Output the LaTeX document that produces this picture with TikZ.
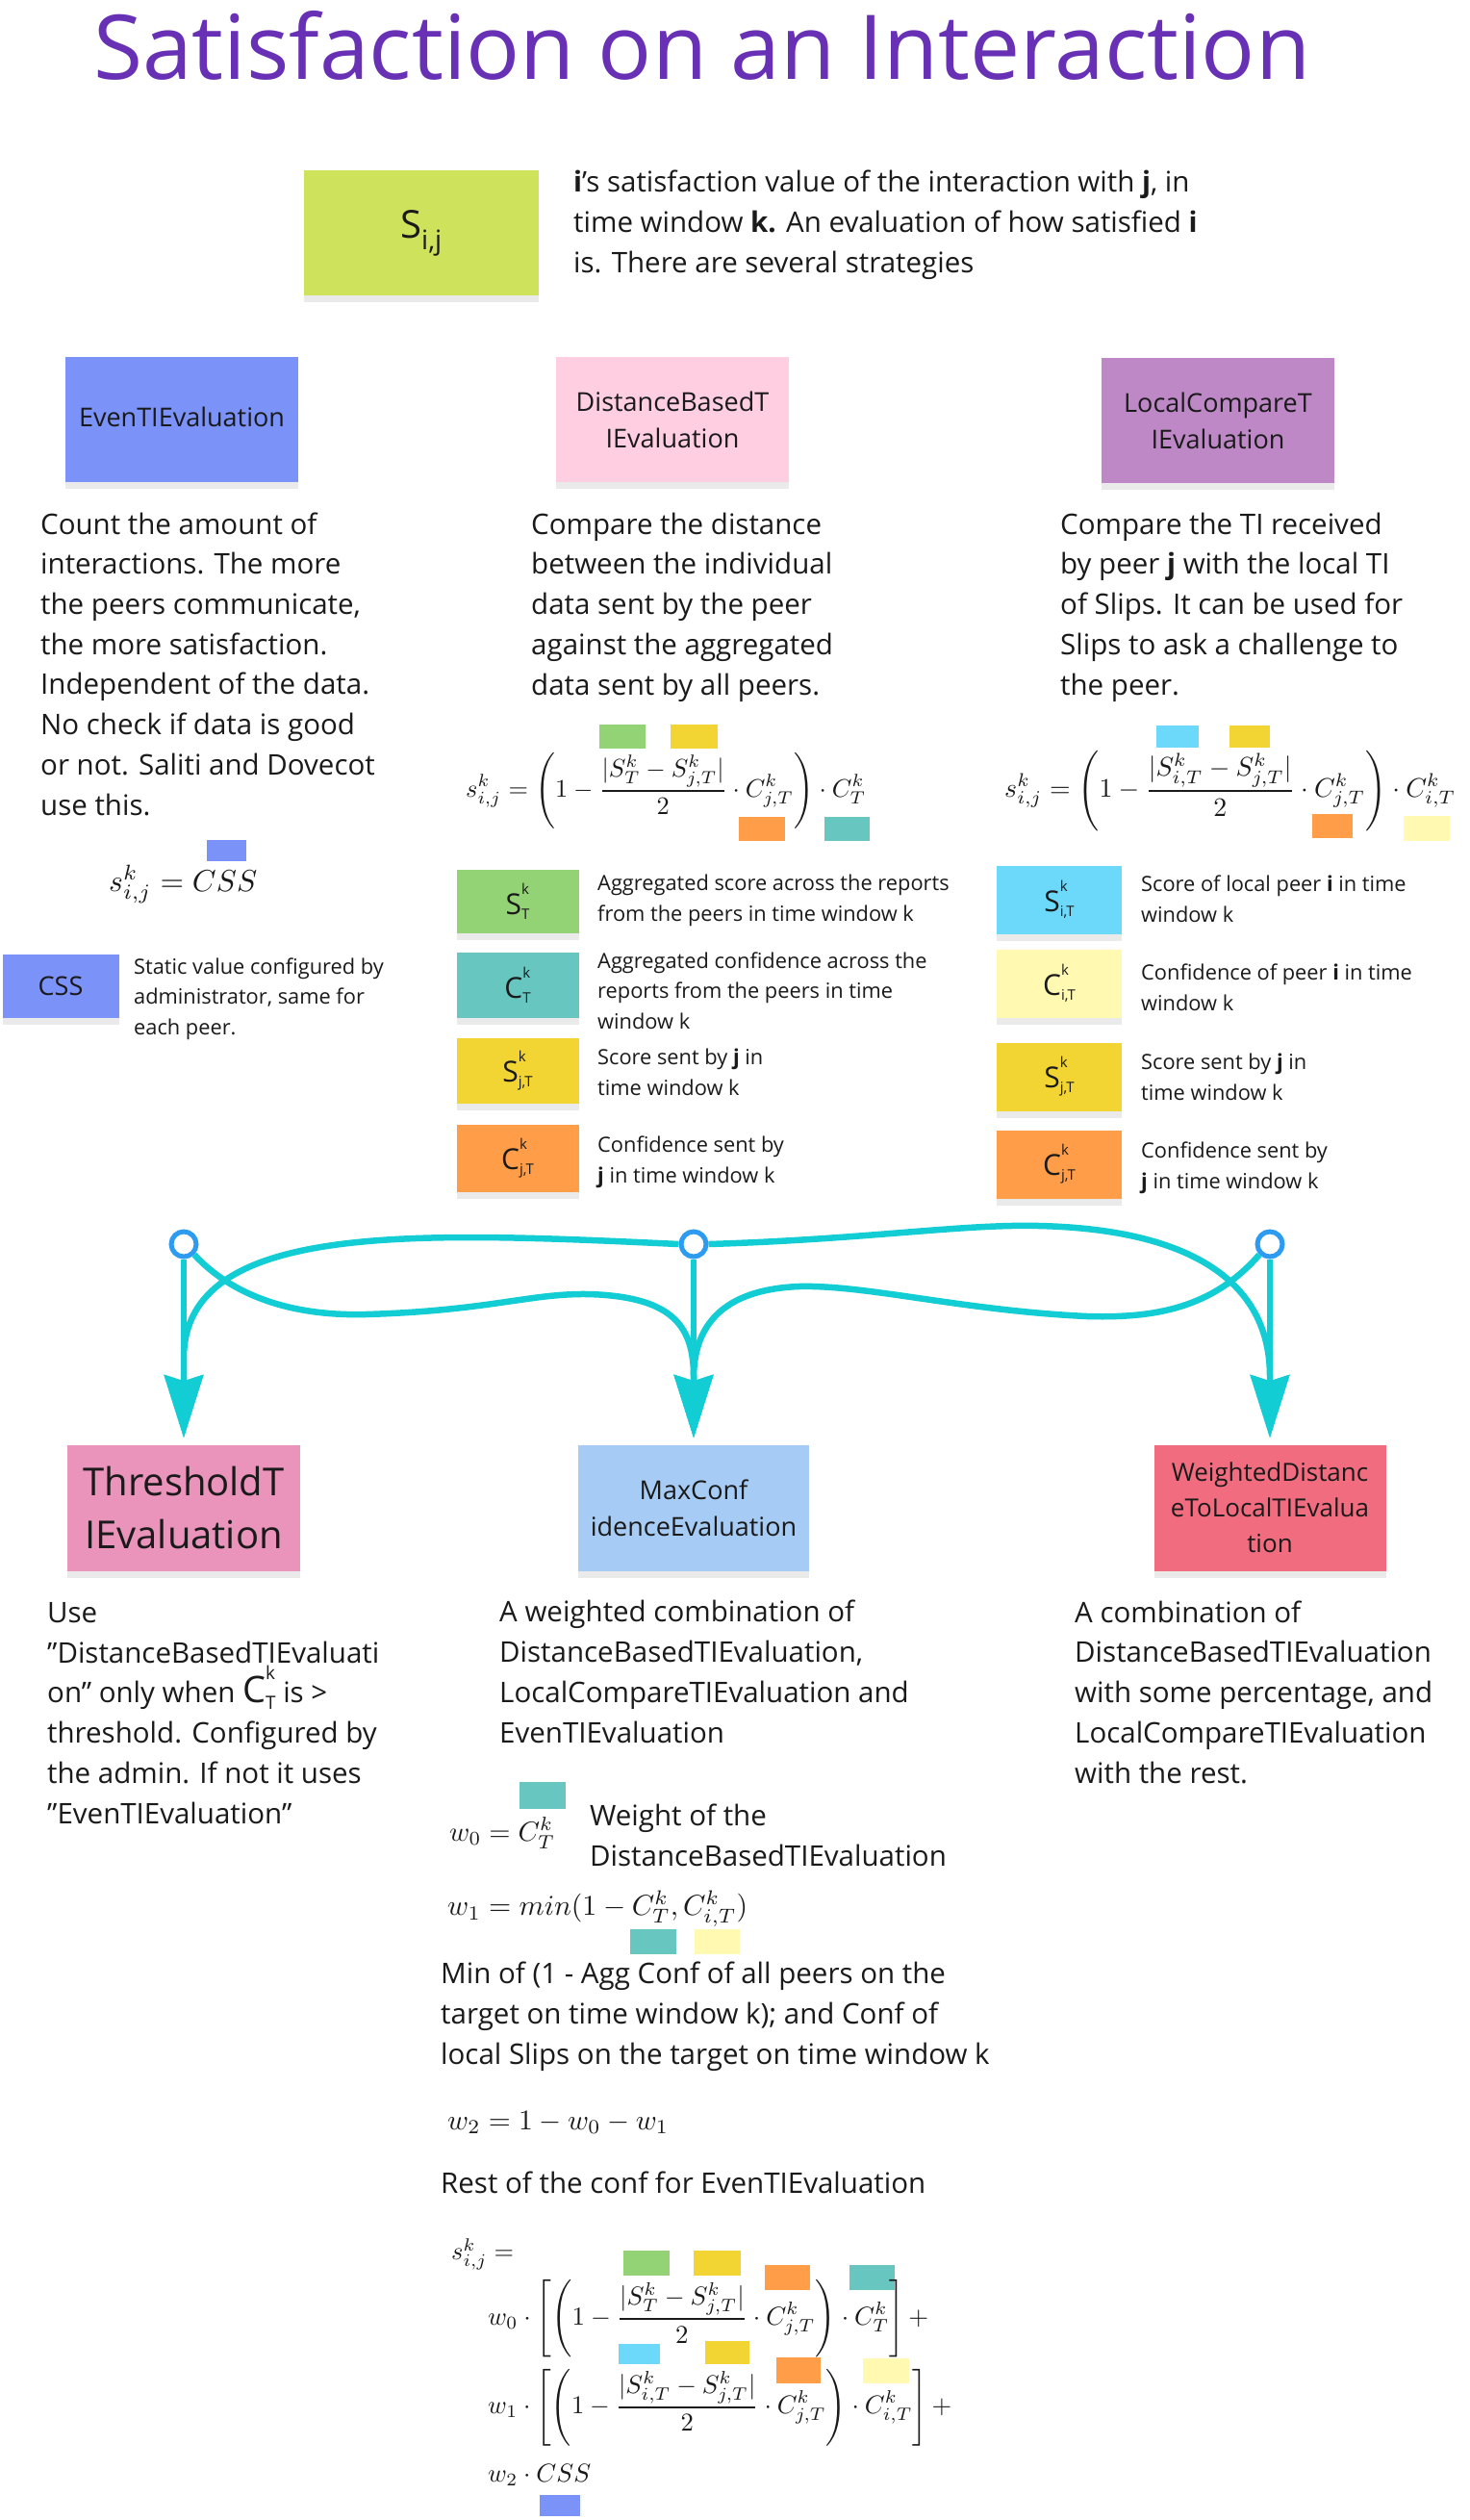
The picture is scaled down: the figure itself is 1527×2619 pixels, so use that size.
\documentclass[tikz,border=0pt]{standalone}
\usepackage{amsmath}
\usepackage{fontspec}
\setmainfont{Open Sans}
\usepackage{graphicx}
\usetikzlibrary{arrows.meta,shadows}
\pgfdeclarelayer{bg}
\pgfsetlayers{bg,main}

\definecolor{ink}{HTML}{1A1A1A}
\definecolor{titlec}{HTML}{6831B5}
\definecolor{limec}{HTML}{CFE25C}
\definecolor{evenc}{HTML}{7B92F8}
\definecolor{distc}{HTML}{FFCEE0}
\definecolor{localc}{HTML}{BE88C7}
\definecolor{greenc}{HTML}{93D275}
\definecolor{tealc}{HTML}{67C6C0}
\definecolor{yellc}{HTML}{F2D432}
\definecolor{orangec}{HTML}{FF9D48}
\definecolor{cyanc}{HTML}{6CD8FA}
\definecolor{paleyc}{HTML}{FFF9B1}
\definecolor{thrc}{HTML}{EA94BB}
\definecolor{maxcol}{HTML}{A6CCF5}
\definecolor{wdc}{HTML}{F16C7F}
\definecolor{flowc}{HTML}{12CDD4}
\definecolor{portc}{HTML}{2D9BF0}

\newcommand{\kv}[2]{{\fontsize{30}{30}\selectfont #1}\rlap{\raisebox{21pt}{\fontsize{15}{15}\selectfont k}}\raisebox{-5pt}{\fontsize{15}{15}\selectfont #2}}

\tikzset{
  sticky/.style={inner sep=0pt, align=center, text=ink, font=\fontsize{27}{38}\selectfont,
    drop shadow={shadow xshift=0pt, shadow yshift=-7pt, opacity=0.16}},
  body/.style={anchor=base west, align=left, inner sep=0pt, text=ink, font=\fontsize{29.5}{41.7}\selectfont},
  small/.style={body, font=\fontsize{21.8}{31.5}\selectfont},
  mathn/.style={anchor=west, inner sep=0pt, text=ink},
  port/.style={circle, draw=portc, line width=5pt, fill=white, minimum size=26pt, inner sep=0pt},
  flow/.style={draw=flowc, line width=6.5pt, shorten >=7pt, -{Stealth[length=65pt,width=40pt,inset=6pt]}}
}

\begin{document}
\begin{tikzpicture}[x=1pt,y=-1pt]
\useasboundingbox (0,0) rectangle (1527,2619);
\begin{pgfonlayer}{bg}
\fill[white] (0,0) rectangle (1527,2619);
\end{pgfonlayer}

\node[anchor=base west, inner sep=0pt, text=titlec, font=\fontsize{93}{93}\selectfont] (title) at (97,82) {Satisfaction on an Interaction};

\node[sticky, fill=limec, minimum width=244pt, minimum height=130pt] (sij) at (438,242) {{\fontsize{40}{40}\selectfont S$_{\text{i,j}}$}};
\node[body] (intro) at (596,283) {\textbf{i}'s satisfaction value of the interaction with \textbf{j}, in\\time window \textbf{k.} An evaluation of how satisfied \textbf{i}\\is. There are several strategies};

\node[sticky, fill=evenc, minimum width=242pt, minimum height=130pt] (even) at (189,436) {\raisebox{6pt}{EvenTIEvaluation}};
\node[sticky, fill=distc, minimum width=242pt, minimum height=130pt] (dist) at (699,436) {DistanceBasedT\\IEvaluation};
\node[sticky, fill=localc, minimum width=242pt, minimum height=130pt] (local) at (1266,437) {LocalCompareT\\IEvaluation};

\node[body] (evenTxt) at (42,847) {Count the amount of\\interactions. The more\\the peers communicate,\\the more satisfaction.\\Independent of the data.\\No check if data is good\\or not. Saliti and Dovecot\\use this.};
\node[body] (distTxt) at (552,722) {Compare the distance\\between the individual\\data sent by the peer\\against the aggregated\\data sent by all peers.};
\node[body] (localTxt) at (1102,722) {Compare the TI received\\by peer \textbf{j} with the local TI\\of Slips. It can be used for\\Slips to ask a challenge to\\the peer.};

\fill[evenc] (215,873) rectangle (256,895);
\node[mathn] (fEven) at (113,919) {\resizebox{154pt}{!}{$s^k_{i,j} = CSS$}};
\node[sticky, fill=evenc, minimum width=121pt, minimum height=66pt] (css) at (63,1025) {CSS};
\node[small] (cssTxt) at (139,1075) {Static value configured by\\administrator, same for\\each peer.};

\fill[greenc] (623,753) rectangle (671,778);
\fill[yellc] (697,753) rectangle (746,778);
\fill[orangec] (768,849) rectangle (816,874);
\fill[tealc] (857,849) rectangle (904,874);
\node[mathn] (fDist) at (484,822) {\resizebox{416pt}{!}{$\displaystyle s^k_{i,j} = \left(1-\frac{|S^k_T - S^k_{j,T}|}{2}\cdot C^k_{j,T}\right)\cdot C^k_T$}};

\fill[cyanc] (1202,754) rectangle (1246,777);
\fill[yellc] (1278,754) rectangle (1320,777);
\fill[orangec] (1364,846) rectangle (1406,871);
\fill[paleyc] (1459,848) rectangle (1507,874);
\node[mathn] (fLocal) at (1044,822) {\resizebox{469pt}{!}{$\displaystyle s^k_{i,j} = \left(1-\frac{|S^k_{i,T} - S^k_{j,T}|}{2}\cdot C^k_{j,T}\right)\cdot C^k_{i,T}$}};

\node[sticky, fill=greenc, minimum width=127pt, minimum height=66pt] (sT) at (538,937) {\kv{S}{T}};
\node[sticky, fill=tealc, minimum width=127pt, minimum height=68pt] (cT) at (538,1024) {\kv{C}{T}};
\node[sticky, fill=yellc, minimum width=127pt, minimum height=68pt] (sjT) at (538,1113) {\kv{S}{j,T}};
\node[sticky, fill=orangec, minimum width=127pt, minimum height=70pt] (cjT) at (538,1204) {\kv{C}{j,T}};
\node[small] (sTTxt) at (621,957) {Aggregated score across the reports\\from the peers in time window k};
\node[small] (cTTxt) at (621,1069) {Aggregated confidence across the\\reports from the peers in time\\window k};
\node[small] (sjTTxt) at (621,1138) {Score sent by \textbf{j} in\\time window k};
\node[small] (cjTTxt) at (621,1229) {Confidence sent by\\\textbf{j} in time window k};

\node[sticky, fill=cyanc, minimum width=130pt, minimum height=71pt] (siT) at (1101,935) {\kv{S}{i,T}};
\node[sticky, fill=paleyc, minimum width=130pt, minimum height=71pt] (ciT) at (1101,1022) {\kv{C}{i,T}};
\node[sticky, fill=yellc, minimum width=130pt, minimum height=71pt] (sjT2) at (1101,1119) {\kv{S}{j,T}};
\node[sticky, fill=orangec, minimum width=130pt, minimum height=71pt] (cjT2) at (1101,1210) {\kv{C}{j,T}};
\node[small] (siTTxt) at (1186,958) {Score of local peer \textbf{i} in time\\window k};
\node[small] (ciTTxt) at (1186,1050) {Confidence of peer \textbf{i} in time\\window k};
\node[small] (sjT2Txt) at (1186,1143) {Score sent by \textbf{j} in\\time window k};
\node[small] (cjT2Txt) at (1186,1235) {Confidence sent by\\\textbf{j} in time window k};

\node[port] (pEven) at (191,1293) {};
\node[port] (pDist) at (721,1293) {};
\node[port] (pLocal) at (1320,1293) {};

\node[sticky, fill=thrc, minimum width=242pt, minimum height=131pt, font=\fontsize{40}{55}\selectfont] (thr) at (191,1567) {ThresholdT\\IEvaluation};
\node[sticky, fill=maxcol, minimum width=240pt, minimum height=131pt] (maxc) at (721,1567) {MaxConf\\idenceEvaluation};
\node[sticky, fill=wdc, minimum width=241pt, minimum height=131pt, font=\fontsize{26}{37}\selectfont] (wdt) at (1320,1567) {WeightedDistanc\\eToLocalTIEvalua\\tion};

\begin{pgfonlayer}{bg}
\draw[flow] (pEven) -- (thr);
\draw[flow] (pDist) -- (maxc);
\draw[flow] (pLocal) -- (wdt);
\draw[flow] (pEven.south east) .. controls (240,1345) and (300,1368) .. (380,1366) .. controls (520,1362) and (560,1340) .. (630,1346) .. controls (700,1352) and (721,1380) .. (721,1430) -- (maxc.north);
\draw[flow] (pDist.west) .. controls (430,1280) and (193,1270) .. (191,1410) -- (thr.north);
\draw[flow] (pDist.east) .. controls (900,1288) and (1000,1272) .. (1080,1274) .. controls (1250,1278) and (1320,1340) .. (1320,1430) -- (wdt.north);
\draw[flow] (pLocal.south west) .. controls (1260,1360) and (1200,1370) .. (1130,1368) .. controls (1000,1362) and (900,1335) .. (830,1337) .. controls (760,1340) and (722,1370) .. (721,1430) -- (maxc.north);
\end{pgfonlayer}

\node[body] (thrTxt) at (49,1895) {Use\\"DistanceBasedTIEvaluati\\on" only when {\fontsize{38}{38}\selectfont C}\rlap{\raisebox{24pt}{\fontsize{19}{19}\selectfont k}}\raisebox{-7pt}{\fontsize{19}{19}\selectfont T} is >\\threshold. Configured by\\the admin. If not it uses\\"EvenTIEvaluation"};
\node[body] (maxTxt) at (519,1811) {A weighted combination of\\DistanceBasedTIEvaluation,\\LocalCompareTIEvaluation and\\EvenTIEvaluation};
\node[body] (wdtTxt) at (1117,1853) {A combination of\\DistanceBasedTIEvaluation\\with some percentage, and\\LocalCompareTIEvaluation\\with the rest.};

\fill[tealc] (540,1852) rectangle (588,1880);
\node[mathn] (fW0) at (467,1905) {\resizebox{110pt}{!}{$w_0 = C^k_T$}};
\node[body] (w0Txt) at (613,1939) {Weight of the\\DistanceBasedTIEvaluation};
\node[mathn] (fW1) at (465,1984) {\resizebox{312pt}{!}{$w_1 = min(1-C^k_T, C^k_{i,T})$}};
\fill[tealc] (655,2005) rectangle (703,2031);
\fill[paleyc] (722,2005) rectangle (769,2031);
\node[body] (w1Txt) at (458,2145) {Min of (1 - Agg Conf of all peers on the\\target on time window k); and Conf of\\local Slips on the target on time window k};
\node[mathn] (fW2) at (465,2206) {\resizebox{230pt}{!}{$w_2 = 1 - w_0 - w_1$}};
\node[body] (w2Txt) at (458,2279) {Rest of the conf for EvenTIEvaluation};

\node[mathn] (fS) at (469,2343) {\resizebox{65pt}{!}{$s^k_{i,j} =$}};
\fill[greenc] (648,2339) rectangle (696,2365);
\fill[yellc] (721,2339) rectangle (770,2365);
\fill[orangec] (795,2354) rectangle (842,2380);
\fill[tealc] (883,2354) rectangle (930,2380);
\node[mathn] (fRow1) at (507,2410) {\resizebox{458pt}{!}{$\displaystyle w_0\cdot\left[\left(1-\frac{|S^k_T-S^k_{j,T}|}{2}\cdot C^k_{j,T}\right)\cdot C^k_T\right]+$}};
\fill[cyanc] (643,2436) rectangle (686,2457);
\fill[yellc] (733,2433) rectangle (779,2457);
\fill[orangec] (807,2450) rectangle (853,2477);
\fill[paleyc] (897,2451) rectangle (945,2477);
\node[mathn] (fRow2) at (507,2502) {\resizebox{482pt}{!}{$\displaystyle w_1\cdot\left[\left(1-\frac{|S^k_{i,T}-S^k_{j,T}|}{2}\cdot C^k_{j,T}\right)\cdot C^k_{i,T}\right]+$}};
\node[mathn] (fRow3) at (507,2572) {\resizebox{107pt}{!}{$w_2\cdot CSS$}};
\fill[evenc] (561,2593) rectangle (603,2615);
\end{tikzpicture}
\end{document}
